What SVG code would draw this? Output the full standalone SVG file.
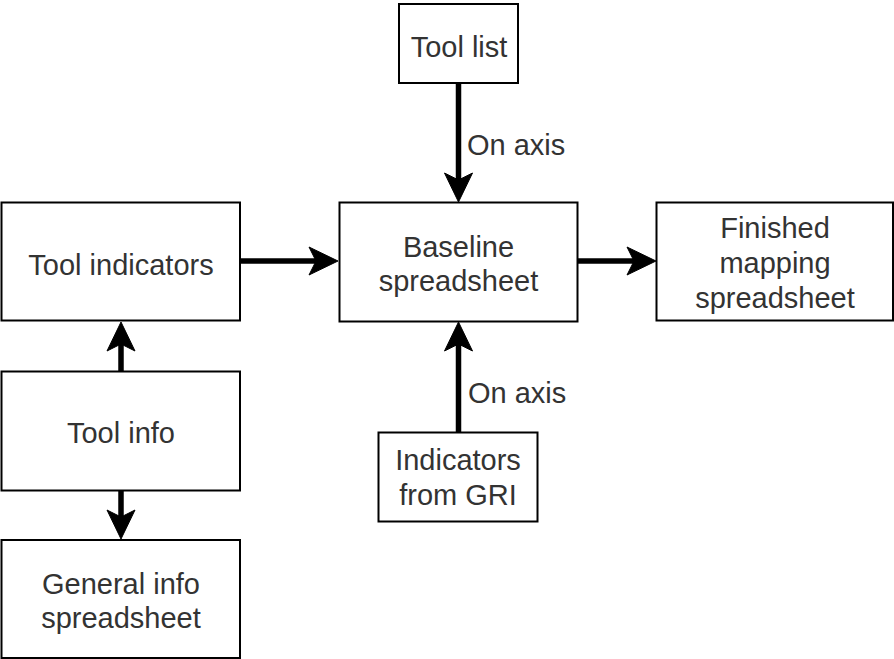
<svg xmlns="http://www.w3.org/2000/svg" width="894" height="659" viewBox="0 0 894 659">
  <style>
    .box { fill: #ffffff; stroke: #000000; stroke-width: 2; }
    .lbl { font-family: "Liberation Sans", Arial, sans-serif; font-size: 29px; fill: #333333; text-anchor: middle; }
    .edge-lbl { font-family: "Liberation Sans", Arial, sans-serif; font-size: 29px; fill: #333333; text-anchor: start; }
    .edge { fill: none; stroke: #000000; stroke-width: 5.5; marker-end: url(#arrow); }
  </style>
  <defs>
    <marker id="arrow" markerUnits="userSpaceOnUse" viewBox="-31 -16 33 32" refX="-21" refY="0" markerWidth="33" markerHeight="32" orient="auto">
      <path d="M0,0 L-29,-14 L-22,0 L-29,14 Z" fill="#000000" stroke="#000000" stroke-width="1" stroke-linejoin="miter"/>
    </marker>
  </defs>
  <rect width="894" height="659" fill="#ffffff"/>

  <g id="connectors">
    <line class="edge" x1="458.5" y1="83" x2="458.5" y2="181"/>
    <line class="edge" x1="458.5" y1="432" x2="458.5" y2="343"/>
    <line class="edge" x1="240" y1="261" x2="317" y2="261"/>
    <line class="edge" x1="577" y1="261" x2="635" y2="261"/>
    <line class="edge" x1="121" y1="371" x2="121" y2="343"/>
    <line class="edge" x1="121" y1="491" x2="121" y2="518"/>
    <text class="edge-lbl" x="467" y="155">On axis</text>
    <text class="edge-lbl" x="468" y="403">On axis</text>
  </g>

  <g id="tool-list">
    <rect class="box" x="399" y="4" width="119" height="79"/>
    <text class="lbl" x="459" y="57">Tool list</text>
  </g>

  <g id="tool-indicators">
    <rect class="box" x="1.5" y="202.5" width="238.5" height="118"/>
    <text class="lbl" x="121" y="275">Tool indicators</text>
  </g>

  <g id="baseline-spreadsheet">
    <rect class="box" x="339.5" y="202.5" width="238" height="119"/>
    <text class="lbl" x="458.5" y="257">Baseline</text>
    <text class="lbl" x="458.5" y="291">spreadsheet</text>
  </g>

  <g id="finished-mapping">
    <rect class="box" x="656.5" y="202.5" width="236.5" height="118"/>
    <text class="lbl" x="775" y="238">Finished</text>
    <text class="lbl" x="775" y="273">mapping</text>
    <text class="lbl" x="775" y="308">spreadsheet</text>
  </g>

  <g id="tool-info">
    <rect class="box" x="1.5" y="371.5" width="238.5" height="119"/>
    <text class="lbl" x="121" y="443">Tool info</text>
  </g>

  <g id="general-info">
    <rect class="box" x="1.5" y="540" width="238.5" height="118"/>
    <text class="lbl" x="121" y="594">General info</text>
    <text class="lbl" x="121" y="628">spreadsheet</text>
  </g>

  <g id="indicators-gri">
    <rect class="box" x="378.5" y="432.5" width="159" height="89"/>
    <text class="lbl" x="458" y="470">Indicators</text>
    <text class="lbl" x="458" y="505">from GRI</text>
  </g>
</svg>
